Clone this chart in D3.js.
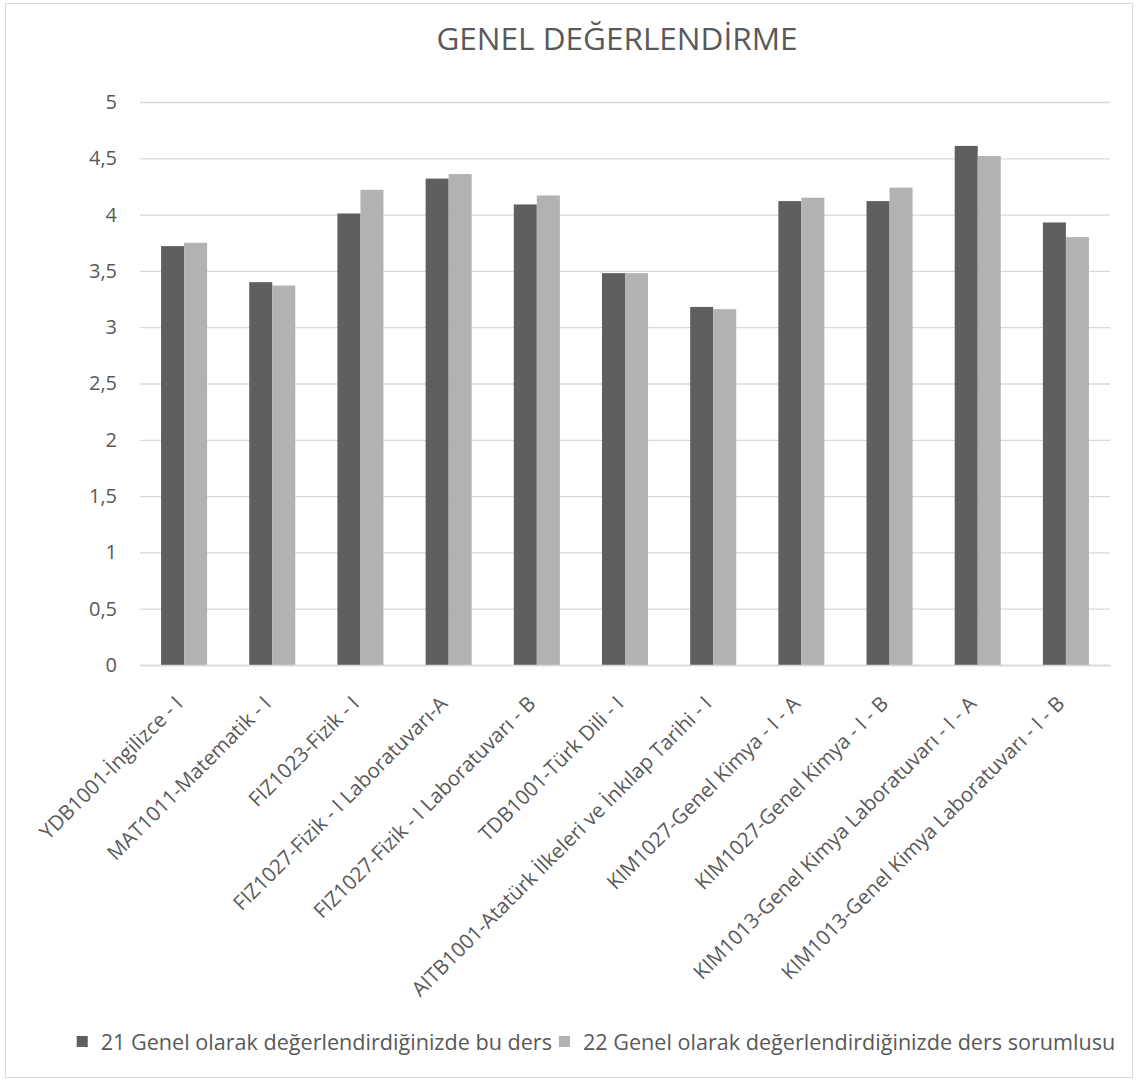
<!DOCTYPE html>
<html>
<head>
<meta charset="utf-8">
<script src="https://cdn.jsdelivr.net/npm/d3@7"></script>
<style>
  html, body { margin: 0; padding: 0; background: #fff; }
  svg { display: block; }
  text { font-family: "Open Sans", "Noto Sans", sans-serif; fill: #595959; }
</style>
</head>
<body>
<svg id="chart" width="1138" height="1081"></svg>
<script>
const title = "GENEL DEĞERLENDİRME";
const categories = [
  "YDB1001-İngilizce - I",
  "MAT1011-Matematik - I",
  "FIZ1023-Fizik - I",
  "FIZ1027-Fizik - I Laboratuvarı-A",
  "FIZ1027-Fizik - I Laboratuvarı - B",
  "TDB1001-Türk Dili - I",
  "AITB1001-Atatürk İlkeleri ve İnkılap Tarihi - I",
  "KIM1027-Genel Kimya - I - A",
  "KIM1027-Genel Kimya - I - B",
  "KIM1013-Genel Kimya Laboratuvarı - I - A",
  "KIM1013-Genel Kimya Laboratuvarı - I - B"
];
const seriesNames = [
  "21 Genel olarak değerlendirdiğinizde bu ders",
  "22 Genel olarak değerlendirdiğinizde ders sorumlusu"
];
const series21 = [3.72, 3.40, 4.01, 4.32, 4.09, 3.48, 3.18, 4.12, 4.12, 4.61, 3.93];
const series22 = [3.75, 3.37, 4.22, 4.36, 4.17, 3.48, 3.16, 4.15, 4.24, 4.52, 3.80];
const yTicks = [0, 0.5, 1, 1.5, 2, 2.5, 3, 3.5, 4, 4.5, 5];
const colors = ["#5f5f5f", "#b2b2b2"];

const svg = d3.select("#chart");
const W = 1138, H = 1081;
const plot = { left: 140, right: 1110, top: 102, bottom: 665 };
const FONT = "'Open Sans', 'Noto Sans', sans-serif";

// outer border
svg.append("rect")
  .attr("x", 5.5).attr("y", 3.5).attr("width", W - 11).attr("height", H - 7)
  .attr("fill", "#fff").attr("stroke", "#d9d9d9").attr("stroke-width", 1);

const y = d3.scaleLinear().domain([0, 5]).range([plot.bottom, plot.top]);
const x0 = d3.scaleBand().domain(categories).range([plot.left, plot.right])
  .paddingInner(0.478).paddingOuter(0.239);
const x1 = d3.scaleBand().domain([0, 1]).range([0, x0.bandwidth()]);

// gridlines + y labels
const yAxis = d3.axisLeft(y).tickValues(yTicks)
  .tickSize(-(plot.right - plot.left))
  .tickFormat(d => String(d).replace(".", ","))
  .tickPadding(23);
const gy = svg.append("g").attr("transform", `translate(${plot.left},0)`).call(yAxis);
gy.select(".domain").remove();
gy.selectAll(".tick line").attr("stroke", "#d9d9d9").attr("stroke-width", 1.3);
gy.selectAll(".tick text").attr("font-size", 20).style("fill", "#595959")
  .style("font-family", FONT);

// bars
const data = categories.map((c, i) => ({ c, v: [series21[i], series22[i]] }));
const groups = svg.append("g").selectAll("g").data(data).join("g")
  .attr("transform", d => `translate(${x0(d.c)},0)`);
groups.selectAll("rect").data(d => d.v.map((v, k) => ({ v, k }))).join("rect")
  .attr("x", d => x1(d.k))
  .attr("y", d => y(d.v))
  .attr("width", x1.bandwidth())
  .attr("height", d => y(0) - y(d.v))
  .attr("fill", d => colors[d.k]);

// x axis
const xAxis = d3.axisBottom(x0).tickSize(0).tickPadding(0);
const gx = svg.append("g").attr("transform", `translate(0,${plot.bottom})`).call(xAxis);
gx.select(".domain").attr("stroke", "#d9d9d9").attr("stroke-width", 1.3);
gx.selectAll(".tick text")
  .attr("font-size", 20.5).style("fill", "#595959")
  .style("font-family", FONT)
  .attr("text-anchor", "end")
  .attr("dy", 0).attr("y", 0)
  .attr("transform", `translate(0,40) rotate(-45)`);

// title
svg.append("text").attr("x", 617).attr("y", 50).attr("text-anchor", "middle")
  .attr("font-size", 31.5).text(title);

// legend
const legend = svg.append("g").attr("transform", "translate(0,1042)");
const items = legend.selectAll("g").data(seriesNames).join("g");
items.append("rect").attr("width", 11).attr("height", 11).attr("y", -6)
  .attr("fill", (d, i) => colors[i]);
items.append("text").attr("x", 24).attr("dy", "0.35em").attr("font-size", 21.6).text(d => d);
const gap = 7;
const widths = [];
items.each(function () { widths.push(this.getBBox().width); });
const total = d3.sum(widths) + gap;
let xpos = 596 - total / 2;
items.attr("transform", (d, i) => {
  const t = `translate(${xpos},0)`;
  xpos += widths[i] + gap;
  return t;
});
</script>
</body>
</html>
